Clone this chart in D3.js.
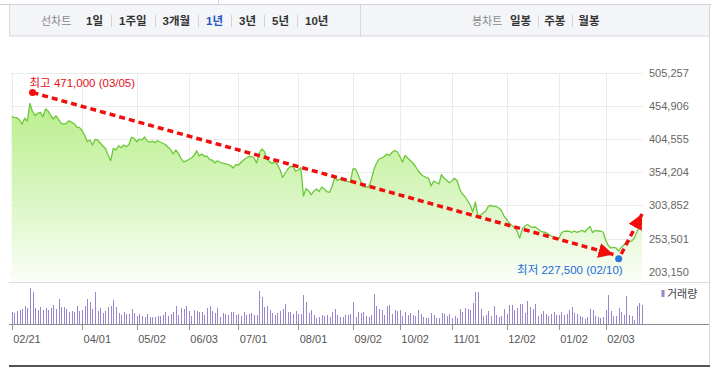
<!DOCTYPE html>
<html>
<head>
<meta charset="utf-8">
<script src="https://cdn.jsdelivr.net/npm/d3@7"></script>
<style>
  body { margin: 0; background: #fff; }
  svg { display: block; font-family: "Liberation Sans", "Noto Sans CJK KR", sans-serif; }
</style>
</head>
<body>
<svg id="chart" width="711" height="368"></svg>
<script>
// ---- data ----
const firstDay = "2024-02-21";
const lastDay = "2025-02-21";
const holidays = [
  "2024-03-01", "2024-04-10", "2024-05-01", "2024-05-06", "2024-05-15", "2024-06-06",
  "2024-08-15", "2024-09-16", "2024-09-17", "2024-09-18", "2024-10-01", "2024-10-03",
  "2024-10-09", "2024-12-25", "2024-12-31", "2025-01-01", "2025-01-27", "2025-01-28",
  "2025-01-29", "2025-01-30"
];

// closing prices, one per trading day
const prices = [
  438800, 437900, 437300, 433800, 427700, 436400, 432300, 458900, 446400, 440300,
  444000, 445500, 438800, 450500, 447500, 440300, 435300, 440300, 434500, 428800,
  427700, 428800, 432700, 430300, 428500, 422700, 422700, 417800, 411000, 400800,
  403400, 395800, 404200, 403400, 398800, 394300, 390500, 380600, 371900, 390800,
  388200, 394700, 391700, 395800, 393200, 396500, 407500, 406000, 400800, 404900,
  403400, 408000, 401900, 400300, 401600, 399300, 402300, 400300, 398400, 396500,
  392700, 388800, 382100, 388200, 383200, 375200, 370200, 371500, 373700, 376000,
  380100, 387100, 379000, 382100, 378600, 379000, 373700, 372900, 368400, 371700,
  369500, 368100, 367200, 366300, 364600, 360800, 366100, 365400, 369200, 372900,
  375700, 378300, 378300, 376000, 368400, 382900, 389700, 385900, 374500, 370200,
  367900, 370200, 366100, 358500, 346400, 352800, 359300, 363100, 363100, 356000,
  357800, 361600, 318200, 329900, 325900, 320100, 325900, 328900, 325100, 331900,
  328900, 324800, 323900, 332700, 347100, 341800, 344400, 343300, 342600, 340600,
  339500, 359300, 359300, 350200, 341000, 332400, 331900, 331900, 342600, 357800,
  367600, 374500, 376000, 378300, 382100, 379800, 384400, 387400, 385500, 378300,
  369900, 379800, 376000, 372200, 368400, 363100, 357000, 351700, 348700, 346700,
  345600, 333400, 341000, 338800, 336500, 350900, 345200, 342100, 338300, 341000,
  345200, 341000, 328900, 321300, 317500, 311400, 304600, 293900, 309100, 287800,
  289300, 292400, 295400, 303000, 303800, 303000, 302300, 300000, 296200, 287800,
  282500, 276700, 273400, 270400, 265000, 254400, 268100, 272600, 274900, 272200,
  270400, 271100, 268100, 265000, 263500, 262800, 260500, 257700, 255900, 253900,
  252900, 262000, 264600, 265000, 264600, 263000, 265000, 263000, 264300, 266100,
  263500, 268100, 271900, 262800, 266100, 265000, 265000, 263500, 251400, 243000,
  239200, 240300, 239200, 234600, 240000, 243700, 249100, 249100, 249800, 254400,
  263500, 271900, 276700
];

// traded volume (shares), one per trading day
const volumes = [
  12300, 11300, 13000, 14300, 15300, 18300, 15700, 36300, 32300, 16300,
  14300, 17300, 14300, 16300, 14300, 16300, 19300, 15300, 25300, 17300,
  17300, 15300, 12300, 13300, 12300, 18300, 13300, 14300, 18300, 25300,
  22300, 15300, 32300, 13300, 16300, 11300, 13300, 17300, 18300, 24300,
  17300, 11300, 9300, 12300, 10300, 9700, 15300, 11300, 8300, 10300,
  8300, 7300, 10300, 7300, 7300, 7300, 8300, 8300, 9300, 12300,
  8300, 10300, 12300, 18300, 9300, 16300, 15300, 18300, 13300, 8300,
  14300, 13300, 12300, 12300, 9300, 16300, 18300, 13300, 11300, 16300,
  7300, 11300, 10300, 9300, 12300, 12300, 9300, 10300, 8300, 12300,
  9300, 10300, 11300, 9300, 9300, 33300, 27300, 17300, 18300, 14300,
  11300, 9300, 11300, 13300, 15300, 20300, 12300, 12300, 10300, 13300,
  10300, 10300, 29300, 22300, 11300, 14300, 9300, 6300, 7300, 9300,
  8300, 9300, 7300, 12300, 15300, 9300, 7300, 7300, 9300, 9300,
  10300, 22300, 7300, 12300, 11300, 12300, 8300, 7300, 9300, 30300,
  18300, 15300, 14300, 9300, 18300, 19300, 10300, 14300, 13300, 14300,
  8300, 12300, 9300, 11300, 9300, 8300, 14300, 10300, 7300, 6300,
  6300, 11300, 9300, 6300, 6300, 11300, 10300, 8300, 10300, 6300,
  8300, 6300, 15300, 12300, 16300, 15300, 14300, 21300, 32300, 32300,
  15300, 8300, 9300, 13300, 8300, 18300, 9300, 7300, 8300, 15300,
  10300, 19300, 19300, 14300, 16300, 20300, 20300, 11300, 23300, 17300,
  15300, 20300, 8300, 10300, 13300, 10300, 8300, 10300, 12300, 9300,
  9300, 12300, 9300, 10300, 14300, 17300, 11300, 10300, 8300, 7300,
  5300, 7300, 15300, 14300, 8300, 7300, 6300, 7300, 14300, 29300,
  13300, 8300, 8300, 16300, 12300, 9300, 28300, 9300, 8300, 4300,
  18000, 20700, 19000
];

const priceTicks = [203150, 253501, 303852, 354204, 404555, 454906, 505257];
const dateTicks = [
  "2024-02-21", "2024-04-01", "2024-05-02", "2024-06-03", "2024-07-01", "2024-08-01",
  "2024-09-02", "2024-10-02", "2024-11-01", "2024-12-02", "2025-01-02", "2025-02-03"
];

const lineTabs = ["1일", "1주일", "3개월", "1년", "3년", "5년", "10년"];
const candleTabs = ["일봉", "주봉", "월봉"];
const selectedTab = "1년";

const high = { date: "2024-03-05", value: 471000 };
const low = { date: "2025-02-10", value: 227500 };
// trend arrows: [date, price] pairs
const trendDown = [["2024-03-05", 471000], ["2025-02-06", 229300]];
const trendUp = [["2025-02-11", 230000], ["2025-02-21", 290900]];

// ---- trading calendar ----
const closed = new Set(holidays);
const dates = [];
for (let d = new Date(firstDay + "T00:00:00Z"); d <= new Date(lastDay + "T00:00:00Z"); d.setUTCDate(d.getUTCDate() + 1)) {
  const s = d.toISOString().slice(0, 10);
  const wd = d.getUTCDay();
  if (wd !== 0 && wd !== 6 && !closed.has(s)) dates.push(s);
}
const series = prices.map((p, i) => ({ date: dates[i], price: p, volume: volumes[i] }));

// ---- layout ----
const plotLeft = 11.7, plotRight = 642.1, gridRight = 643;
const priceTop = 73, priceBottom = 281;
const volTop = 282, volBase = 324;

const svg = d3.select("#chart");

const x = d3.scalePoint().domain(dates).range([plotLeft, plotRight]);
const y = d3.scaleLinear().domain([priceTicks[0], priceTicks[priceTicks.length - 1]]).range([271.7, priceTop]);
const yVol = d3.scaleLinear().domain([0, 40000]).range([volBase, volBase - 40]);
const shortDate = (s) => s.slice(5).replace("-", "/");

// ---- tab bar ----
const bar = svg.append("g");
svg.append("line").attr("x1", 0).attr("x2", 711).attr("y1", 4.5).attr("y2", 4.5).attr("stroke", "#cfd2d7");
svg.append("line").attr("x1", 218.5).attr("x2", 218.5).attr("y1", 0).attr("y2", 4.5).attr("stroke", "#cfd2d7");
bar.append("rect")
  .attr("x", 9.5).attr("y", 4.5).attr("width", 700).attr("height", 31.5)
  .attr("fill", "#f3f5f8").attr("stroke", "#d5d8dd");
bar.append("line").attr("x1", 360.5).attr("x2", 360.5).attr("y1", 5).attr("y2", 36).attr("stroke", "#d5d8dd");

function drawTabs(title, titleX, items, startX, gap) {
  bar.append("text").attr("x", titleX).attr("y", 25)
    .attr("font-size", 11).attr("fill", "#8a8a8a").text(title);
  let cx = startX;
  items.forEach((label, i) => {
    if (i > 0) {
      bar.append("line").attr("x1", Math.round(cx + gap / 2) + 0.5).attr("x2", Math.round(cx + gap / 2) + 0.5)
        .attr("y1", 15).attr("y2", 27).attr("stroke", "#d3d3d3");
      cx += gap;
    }
    const t = bar.append("text").attr("x", cx).attr("y", 25)
      .attr("font-size", 11.5).attr("font-weight", "bold")
      .attr("fill", label === selectedTab ? "#2457c5" : "#333")
      .text(label);
    cx += t.node().getComputedTextLength();
  });
}
drawTabs("선차트", 41, lineTabs, 86, 16);
drawTabs("봉차트", 472, candleTabs, 510, 13);

// ---- grid ----
const grid = svg.append("g").attr("stroke", "#ebebeb").attr("shape-rendering", "crispEdges");
grid.selectAll(".h").data(priceTicks).enter().append("line")
  .attr("x1", 10).attr("x2", gridRight)
  .attr("y1", (d) => Math.round(y(d)) + 0.5).attr("y2", (d) => Math.round(y(d)) + 0.5);
grid.selectAll(".v").data(dateTicks).enter().append("line")
  .attr("x1", (d) => Math.round(x(d)) + 0.5).attr("x2", (d) => Math.round(x(d)) + 0.5)
  .attr("y1", priceTop).attr("y2", priceBottom);

// ---- price area + line ----
const defs = svg.append("defs");
const grad = defs.append("linearGradient").attr("id", "areaFill")
  .attr("gradientUnits", "userSpaceOnUse").attr("x1", 0).attr("x2", 0).attr("y1", 95).attr("y2", priceBottom);
grad.append("stop").attr("offset", 0).attr("stop-color", "#b8ee88");
grad.append("stop").attr("offset", 0.55).attr("stop-color", "#d9f6c2");
grad.append("stop").attr("offset", 1).attr("stop-color", "#fbfef8");

svg.append("path").datum(series)
  .attr("fill", "url(#areaFill)")
  .attr("d", d3.area().x((d) => x(d.date)).y0(priceBottom).y1((d) => y(d.price)));
svg.append("path").datum(series)
  .attr("fill", "none").attr("stroke", "#6cc83a").attr("stroke-width", 1.3)
  .attr("stroke-linejoin", "round")
  .attr("d", d3.line().x((d) => x(d.date)).y((d) => y(d.price)));

// ---- volume panel ----
svg.append("line").attr("x1", 9).attr("x2", 709).attr("y1", volTop + 0.5).attr("y2", volTop + 0.5)
  .attr("stroke", "#dcdcdc");
svg.append("g").attr("fill", "#9a86d0").attr("shape-rendering", "crispEdges")
  .selectAll("rect").data(series).enter().append("rect")
  .attr("x", (d) => Math.round(x(d.date)))
  .attr("width", 1)
  .attr("y", (d) => yVol(d.volume))
  .attr("height", (d) => volBase - yVol(d.volume));

const xAxis = svg.append("g")
  .attr("transform", `translate(0,${volBase})`)
  .call(d3.axisBottom(x).tickValues(dateTicks).tickSize(6).tickPadding(5).tickFormat(shortDate));
xAxis.select(".domain").remove();
xAxis.selectAll(".tick line").attr("stroke", "#999").attr("shape-rendering", "crispEdges");
xAxis.selectAll(".tick text")
  .attr("text-anchor", "start").attr("x", 1).attr("dy", "0.71em")
  .attr("font-size", 11).attr("font-family", "Liberation Sans, sans-serif").attr("fill", "#555");
svg.append("line").attr("x1", 9).attr("x2", 709).attr("y1", volBase + 0.5).attr("y2", volBase + 0.5)
  .attr("stroke", "#8c8c8c");

// ---- price axis labels ----
const yAxis = svg.append("g")
  .attr("transform", `translate(${gridRight},0)`)
  .call(d3.axisRight(y).tickValues(priceTicks).tickSize(0).tickPadding(6).tickFormat(d3.format(",")));
yAxis.select(".domain").remove();
yAxis.selectAll(".tick text")
  .attr("font-size", 11).attr("font-family", "Liberation Sans, sans-serif").attr("fill", "#666");

// ---- legend ----
svg.append("rect").attr("x", 661.5).attr("y", 290).attr("width", 3).attr("height", 7).attr("fill", "#9a86d0");
svg.append("text").attr("x", 667).attr("y", 298).attr("font-size", 11).attr("fill", "#444").text("거래량");

// ---- annotations ----
const marker = defs.append("marker").attr("id", "arrow")
  .attr("markerUnits", "userSpaceOnUse").attr("markerWidth", 16).attr("markerHeight", 16)
  .attr("refX", 15).attr("refY", 7.5).attr("orient", "auto");
marker.append("path").attr("d", "M0,0 L15,7.5 L0,15 Z").attr("fill", "#f20d0d");

const hx = x(high.date), hy = y(high.value) - 3;
const lx = x(low.date), ly = y(low.value) + 3;

function trendPath(pts, start) {
  const p = pts.map((d) => [x(d[0]), y(d[1])]);
  if (start) p[0] = start;
  return d3.line()(p);
}
svg.append("path").attr("d", trendPath(trendDown, [hx, hy]))
  .attr("fill", "none").attr("stroke", "#f20d0d").attr("stroke-width", 3.5)
  .attr("stroke-dasharray", "6,4").attr("marker-end", "url(#arrow)");
svg.append("path").attr("d", trendPath(trendUp))
  .attr("fill", "none").attr("stroke", "#f20d0d").attr("stroke-width", 3.5)
  .attr("stroke-dasharray", "6,4").attr("marker-end", "url(#arrow)");

svg.append("circle").attr("cx", hx).attr("cy", hy).attr("r", 3.5).attr("fill", "#f20d0d");
svg.append("circle").attr("cx", lx).attr("cy", ly).attr("r", 3.5).attr("fill", "#2a76dc");

svg.append("text").attr("x", hx - 3).attr("y", hy - 6)
  .attr("font-size", 11.5).attr("fill", "#e3101a")
  .text(`최고 ${d3.format(",")(high.value)} (${shortDate(high.date)})`);
svg.append("text").attr("x", lx + 4).attr("y", ly + 15).attr("text-anchor", "end")
  .attr("font-size", 11.5).attr("fill", "#1c6cd6")
  .text(`최저 ${d3.format(",")(low.value)} (${shortDate(low.date)})`);

// ---- frame ----
svg.append("line").attr("x1", 709.5).attr("x2", 709.5).attr("y1", 36).attr("y2", 366).attr("stroke", "#d8d8d8");
svg.append("line").attr("x1", 9).attr("x2", 710).attr("y1", 366).attr("y2", 366)
  .attr("stroke", "#555").attr("stroke-width", 2);
</script>
</body>
</html>
